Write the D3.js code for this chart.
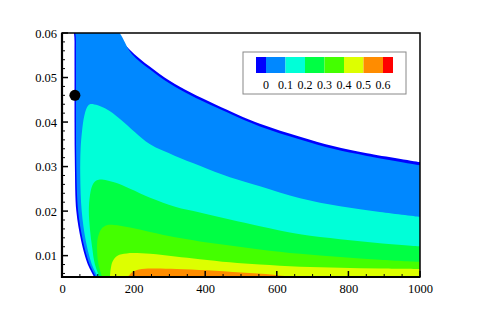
<!DOCTYPE html>
<html>
<head>
<meta charset="utf-8">
<script src="https://cdn.jsdelivr.net/npm/d3@7"></script>
<style>
  body { margin: 0; background: #fff; }
  text { font-family: 'Liberation Serif', 'Times New Roman', serif; fill: #000; }
</style>
</head>
<body>
<div id="chart-area"></div>
<script>
// contour boundaries: [x, y], each from the bottom-left up and over to the right
// (points above 0.06 only carry the curve past the clipped top edge)
var level0 = [[90,.0052],[75,.0075],[64,.010],[53,.0135],[40,.020],[36,.030],[35,.040],[35,.050],[35,.058],[36,.066],
  [100,.066],[120,.0625],[148,.0600],[190,.0562],[246,.0524],[302,.0492],[358,.0467],[433,.0438],[553,.0396],[665,.0367],[757,.0346],[852,.0330],[1000,.0310]];
var level1 = [[95,.0052],[80,.0075],[69,.010],[58,.0135],[45,.020],[40,.030],[39,.040],[39,.050],[39,.058],[40,.066],
  [115,.066],[134,.0625],[161,.0600],[195,.0553],[246,.0518],[302,.0486],[358,.0461],[433,.0432],[553,.0390],[665,.0361],[757,.0340],[852,.0324],[1000,.0303]];
var level2 = [[100,.0052],[86,.0075],[76,.010],[66,.0135],[55,.020],[51,.028],[52,.034],[56,.038],[62,.0413],[70,.0433],[78,.0440],
  [120,.0431],[162,.0407],[204,.0377],[246,.0350],[316,.0324],[385,.0302],[469,.0276],[553,.0256],[665,.0229],[777,.0211],[888,.0198],[1000,.0187]];
var level3 = [[105,.0052],[92,.0080],[84,.0120],[78,.0160],[75,.0200],[78,.0235],[85,.0258],[95,.0268],[106,.0271],
  [148,.0264],[190,.0250],[246,.0230],[316,.0210],[385,.0197],[469,.0181],[553,.0166],[665,.0148],[777,.0137],[888,.0128],[1000,.0121]];
var level4 = [[112,.0052],[102,.0080],[98,.0110],[100,.0140],[110,.0160],[125,.0168],[145,.0169],
  [190,.0163],[246,.0153],[316,.0141],[385,.0132],[469,.0123],[553,.0114],[665,.0104],[777,.0097],[888,.0091],[1000,.0086]];
var level5 = [[134,.0052],[136,.0070],[142,.0088],[155,.0100],[181,.0105],
  [246,.0104],[316,.0098],[385,.0092],[469,.0085],[553,.0080],[665,.0075],[777,.0073],[888,.0071],[1000,.0070]];
var level6 = [[184,.0052],[195,.0062],[215,.0069],[250,.0071],[320,.0070],[405,.0067],[500,.0062],[590,.0057],[640,.0052]];

var levels = [level0, level1, level2, level3, level4, level5, level6];
var colors = ["#0000ff", "#0088ff", "#00ffd8", "#00ff44", "#44ff00", "#ddff00", "#ff8c00", "#ff0000"];
var legendLabels = ["0", "0.1", "0.2", "0.3", "0.4", "0.5", "0.6"];
var xTicks = [0, 200, 400, 600, 800, 1000];
var yTicks = [0.01, 0.02, 0.03, 0.04, 0.05, 0.06];
var marker = [[36, 0.046]];

var width = 478, height = 320;
var mLeft = 62, mRight = 420, mTop = 33, mBottom = 277;
var xMin = 0, xMax = 1000, yMin = 0.0052, yMax = 0.06;
var serif = "'Liberation Serif', 'Times New Roman', serif";

var svg = d3.select("#chart-area").append("svg")
    .attr("width", width)
    .attr("height", height);

var x = d3.scaleLinear().domain([xMin, xMax]).range([mLeft, mRight]);
var y = d3.scaleLinear().domain([yMin, yMax]).range([mBottom, mTop]);

svg.append("clipPath").attr("id", "plot-clip")
  .append("rect")
    .attr("x", mLeft).attr("y", mTop)
    .attr("width", mRight - mLeft).attr("height", mBottom - mTop);

var line = d3.line()
    .x(d => x(d[0]))
    .y(d => y(d[1]))
    .curve(d3.curveCatmullRom.alpha(0.5));

var fills = svg.append("g").attr("clip-path", "url(#plot-clip)");
levels.forEach((pts, i) => {
  var first = pts[0], last = pts[pts.length - 1];
  var d = line(pts);
  if (last[0] >= xMax) {
    d += "L" + x(xMax) + "," + y(yMin) + "L" + x(first[0]) + "," + y(yMin);
  }
  d += "Z";
  fills.append("path")
    .attr("d", d)
    .attr("fill", colors[i]);
});

// axes
var xAxis = d3.axisBottom(x).tickValues(xTicks).tickSize(0).tickPadding(7).tickFormat(d3.format("d"));
var yAxis = d3.axisLeft(y).tickValues(yTicks).tickSize(0).tickPadding(5).tickFormat(d3.format(".2f"));

var gx = svg.append("g").attr("transform", "translate(0," + mBottom + ")").call(xAxis);
var gy = svg.append("g").attr("transform", "translate(" + mLeft + ",0)").call(yAxis);
[gx, gy].forEach(g => {
  g.attr("font-family", serif).attr("font-size", 12.5);
  g.select(".domain").remove();
  g.selectAll("text")
    .attr("fill", "#000")
    .style("font-family", serif)
    .style("font-size", "12.5px");
});

// inward ticks, majors and minors
var ticks = svg.append("g").attr("stroke", "#000");
d3.range(0, 1001, 50).forEach(v => {
  var major = v % 200 === 0;
  ticks.append("line")
    .attr("x1", x(v)).attr("x2", x(v))
    .attr("y1", mBottom).attr("y2", mBottom - (major ? 6 : 3))
    .attr("stroke-width", major ? 1.5 : 1);
});
d3.range(6, 61, 2).forEach(k => {
  var v = k / 1000;
  var major = k % 10 === 0;
  ticks.append("line")
    .attr("x1", mLeft).attr("x2", mLeft + (major ? 6 : 3))
    .attr("y1", y(v)).attr("y2", y(v))
    .attr("stroke-width", major ? 1.5 : 1);
});

// frame
svg.append("rect")
    .attr("x", mLeft).attr("y", mTop)
    .attr("width", mRight - mLeft).attr("height", mBottom - mTop)
    .attr("fill", "none").attr("stroke", "#000").attr("stroke-width", 1.5);
svg.append("path")
    .attr("d", "M" + mLeft + "," + mTop + "V" + mBottom + "H" + mRight)
    .attr("fill", "none").attr("stroke", "#000").attr("stroke-width", 2.2);

// marker
svg.selectAll("circle.marker").data(marker).enter()
  .append("circle")
    .attr("class", "marker")
    .attr("cx", d => x(d[0]))
    .attr("cy", d => y(d[1]))
    .attr("r", 5.5)
    .attr("fill", "#000");

// legend
var lg = svg.append("g");
lg.append("rect")
    .attr("x", 243).attr("y", 52)
    .attr("width", 163).attr("height", 42)
    .attr("fill", "#fff").attr("stroke", "#888").attr("stroke-width", 1);
var lx = d3.scaleLinear().domain([0, legendLabels.length - 1]).range([266, 383]);
var edges = [256].concat(legendLabels.map((d, i) => lx(i))).concat([393]);
lg.selectAll("rect.box").data(colors).enter()
  .append("rect")
    .attr("class", "box")
    .attr("x", (d, i) => edges[i])
    .attr("y", 57)
    .attr("width", (d, i) => edges[i + 1] - edges[i])
    .attr("height", 16)
    .attr("fill", d => d);
lg.selectAll("text").data(legendLabels).enter()
  .append("text")
    .attr("x", (d, i) => lx(i))
    .attr("y", 89)
    .attr("text-anchor", "middle")
    .style("font-family", serif)
    .style("font-size", "12px")
    .text(d => d);
</script>
</body>
</html>
